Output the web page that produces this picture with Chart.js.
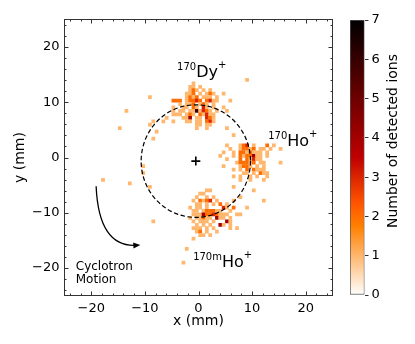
<!DOCTYPE html>
<html>
<head>
<meta charset="utf-8">
<script src="https://cdn.jsdelivr.net/npm/chart.js@4"></script>
<style>
  html, body { margin: 0; padding: 0; background: #fff; }
  #wrap { position: relative; width: 415px; height: 344px; }
  #main { position: absolute; left: 0; top: 0; }
  #cbar { position: absolute; left: 345px; top: 0; }
</style>
</head>
<body>
<div id="wrap">
  <canvas id="main" width="415" height="344"></canvas>
  <canvas id="cbar" width="70" height="344"></canvas>
</div>
<script>
// ─── Data ─────────────────────────────────────
const BIN = 0.625;            // histogram bin width, mm
const MAX_COUNT = 7;
const axisTicks = [-20, -10, 0, 10, 20];
const cbarTicks = [0, 1, 2, 3, 4, 5, 6, 7];

// each cluster: bin grid, one string per row (top row first), digit = ion count
const dyOrigin = [-10, 21];   // [first column, top row] in bin units
const dyRows = [
  '........1...........',
  '.......11.1.........',
  '.......121.1.1......',
  '......112.1.121..1..',
  '......1212.111.1....',
  '..222.12232.2311...1',
  '....1.112.121.1.....',
  '.....11.21.31.1..1..',
  '..1.11.1161321.1....',
  '...11.121.21311.....',
  '.....114.11.321.....',
  '......11.11.231.....',
  '.........11.11......',
  '.........1..1.......',
];

const hoOrigin = [6, 3];
const hoRows = [
  '..1...123.1...2.1...',
  '...1..12212.11.1....',
  '.1..1.2212111.1.....',
  '1...1.2122411.1.....',
  '..1...2.21311.......',
  '.....122212.11......',
  '.1....1221.1.1......',
  '....1.1.2.2111......',
  '.......11.1.211.....',
  '....1.1..1.1..1.....',
  '......1..1...1......',
];

const homOrigin = [-4, -10];
const homRows = [
  '......11.........',
  '....11...........',
  '...1..1.1........',
  '..1.2123.1....1..',
  '...11.1.1.2.1....',
  '.1.11.1....31.2..',
  '..11.122211..1...',
  '..11142232111..1.',
  '.1.11211.411.1...',
  '..1.111.1...41...',
  '...1.1.1..41.1...',
  '..111.1.1....1.1.',
  '...12.1..1.......',
  '....11.1.........',
];

// single stray ions (count 1), bin column / row
const strayCols = [14, -15, -22, -24, -8, -10, -11, -8, -8, -15, -14, -13, -14, -17, -17, -29, -21, -15, -14, -2, -4, -5, 24, 24, 19, 8, 10, 8, 14, 12, 12, 16, 10];
const strayRows = [22, 17, 13, 8, 14, 11, 10, 10, 12, 9, 10, 7, 5, -3, -5, -7, -8, -9, -19, -24, -27, -31, 2, -2, -13, 8, 6, 13, -15, -17, -12, -10, -9];

const ringCenter = [-0.5, -0.65];  // mm
const ringRadius = 10.2;           // mm

// ─── Helpers ──────────────────────────────────
function heat(c) {   // gist_heat reversed
  const t = 1 - c / MAX_COUNT;
  const r = Math.min(1, 1.5 * t);
  const g = Math.max(0, Math.min(1, 2 * t - 1));
  const b = Math.max(0, Math.min(1, 4 * t - 3));
  return `rgb(${Math.round(r * 255)},${Math.round(g * 255)},${Math.round(b * 255)})`;
}

function gridCells(origin, rows) {
  const out = [];
  rows.forEach((row, r) => {
    [...row].forEach((ch, k) => {
      if (ch === '.') return;
      out.push({ x: (origin[0] + k + 0.5) * BIN, y: (origin[1] - r + 0.5) * BIN, c: +ch });
    });
  });
  return out;
}

const cells = [
  ...gridCells(dyOrigin, dyRows),
  ...gridCells(hoOrigin, hoRows),
  ...gridCells(homOrigin, homRows),
  ...strayCols.map((col, k) => ({ x: (col + 0.5) * BIN, y: (strayRows[k] + 0.5) * BIN, c: 1 })),
];

const minus = v => String(v).replace('-', '\u2212');
const FONT = "'DejaVu Sans', sans-serif";
Chart.defaults.font.family = FONT;
Chart.defaults.color = '#000';

function cellRadius(ctx) {
  const { x, y } = ctx.chart.scales;
  const w = Math.abs(x.getPixelForValue(BIN) - x.getPixelForValue(0));
  const h = Math.abs(y.getPixelForValue(BIN) - y.getPixelForValue(0));
  return (w + h) / 2 * 0.77;
}

// ─── Plugins ──────────────────────────────────
const frame = {
  id: 'frame',
  afterDatasetsDraw(chart) {
    const { ctx, chartArea: a, scales: { x, y } } = chart;
    ctx.save();
    ctx.strokeStyle = '#333';
    ctx.lineWidth = 1;
    ctx.strokeRect(a.left, a.top, a.right - a.left, a.bottom - a.top);
    ctx.beginPath();
    for (let v = -24; v <= 24; v += 2) {
      const len = v % 10 === 0 ? 4 : 2;
      const px = Math.round(x.getPixelForValue(v)) + 0.5;
      const py = Math.round(y.getPixelForValue(v)) + 0.5;
      ctx.moveTo(px, a.bottom); ctx.lineTo(px, a.bottom - len);
      ctx.moveTo(px, a.top);    ctx.lineTo(px, a.top + len);
      ctx.moveTo(a.left, py);   ctx.lineTo(a.left + len, py);
      ctx.moveTo(a.right, py);  ctx.lineTo(a.right - len, py);
    }
    ctx.stroke();
    ctx.restore();
  },
};

function ionLabel(ctx, x, y, mass, name, charge) {
  ctx.textBaseline = 'alphabetic';
  ctx.textAlign = 'left';
  ctx.font = `10px ${FONT}`;
  ctx.fillText(mass, x, y - 7);
  let cx = x + ctx.measureText(mass).width;
  ctx.font = `16px ${FONT}`;
  ctx.fillText(name, cx, y);
  cx += ctx.measureText(name).width;
  ctx.font = `10px ${FONT}`;
  ctx.fillText(charge, cx, y - 9);
}

const overlay = {
  id: 'overlay',
  afterDatasetsDraw(chart) {
    const { ctx, scales: { x, y } } = chart;
    ctx.save();
    // dashed ring
    const cx = x.getPixelForValue(ringCenter[0]), cy = y.getPixelForValue(ringCenter[1]);
    const rx = Math.abs(x.getPixelForValue(ringCenter[0] + ringRadius) - cx);
    const ry = Math.abs(y.getPixelForValue(ringCenter[1] + ringRadius) - cy);
    ctx.strokeStyle = '#000';
    ctx.lineWidth = 1.2;
    ctx.setLineDash([4.5, 2.5]);
    ctx.beginPath();
    ctx.ellipse(cx, cy, rx, ry, 0, 0, Math.PI * 2);
    ctx.stroke();
    ctx.setLineDash([]);

    // cyclotron arrow
    const p0 = [x.getPixelForValue(-19.1), y.getPixelForValue(-5.2)];
    const pc = [x.getPixelForValue(-18.6), y.getPixelForValue(-16.3)];
    const p1 = [x.getPixelForValue(-11.6), y.getPixelForValue(-15.9)];
    ctx.lineWidth = 1.3;
    ctx.beginPath();
    ctx.moveTo(p0[0], p0[1]);
    ctx.quadraticCurveTo(pc[0], pc[1], p1[0], p1[1]);
    ctx.stroke();
    const ang = Math.atan2(p1[1] - pc[1], p1[0] - pc[0]);
    const tip = [p1[0] + 4 * Math.cos(ang), p1[1] + 4 * Math.sin(ang)];
    ctx.beginPath();
    ctx.moveTo(tip[0], tip[1]);
    ctx.lineTo(tip[0] - 7 * Math.cos(ang) + 3 * Math.sin(ang), tip[1] - 7 * Math.sin(ang) - 3 * Math.cos(ang));
    ctx.lineTo(tip[0] - 7 * Math.cos(ang) - 3 * Math.sin(ang), tip[1] - 7 * Math.sin(ang) + 3 * Math.cos(ang));
    ctx.closePath();
    ctx.fillStyle = '#000';
    ctx.fill();

    // labels
    ctx.fillStyle = '#000';
    ionLabel(ctx, x.getPixelForValue(-4.0), y.getPixelForValue(14.5), '170', 'Dy', '+');
    ionLabel(ctx, x.getPixelForValue(13.0), y.getPixelForValue(2.0), '170', 'Ho', '+');
    ionLabel(ctx, x.getPixelForValue(-1.0), y.getPixelForValue(-19.9), '170m', 'Ho', '+');
    ctx.font = `12px ${FONT}`;
    ctx.textAlign = 'left';
    ctx.fillText('Cyclotron', x.getPixelForValue(-22.9), y.getPixelForValue(-20.3));
    ctx.fillText('Motion', x.getPixelForValue(-22.9), y.getPixelForValue(-22.8));
    ctx.restore();
  },
};

// ─── Main heat map ────────────────────────────
const tickFont = { size: 13, family: FONT };
const titleFont = { size: 14, family: FONT };
const fixTicks = s => { s.ticks = axisTicks.map(v => ({ value: v })); };

new Chart(document.getElementById('main'), {
  type: 'scatter',
  data: {
    datasets: [
      {
        data: cells,
        pointStyle: 'rect',
        pointRadius: cellRadius,
        pointHoverRadius: cellRadius,
        pointBackgroundColor: ctx => heat(ctx.raw.c),
        pointBorderWidth: 0,
      },
      {
        data: [{ x: ringCenter[0], y: ringCenter[1] }],
        pointStyle: 'cross',
        pointRadius: 4.5,
        pointBorderColor: '#000',
        pointBorderWidth: 1.6,
      },
    ],
  },
  options: {
    responsive: false,
    animation: false,
    events: [],
    layout: { padding: { left: 0, top: 19.5, right: 82.5, bottom: 0 } },
    plugins: { legend: { display: false }, tooltip: { enabled: false } },
    scales: {
      x: {
        type: 'linear', min: -25, max: 25,
        grid: { display: false, drawTicks: false }, border: { display: false },
        ticks: { font: tickFont, padding: 5, maxRotation: 0, callback: minus },
        afterBuildTicks: fixTicks,
        title: { display: true, text: 'x (mm)', font: titleFont, padding: { top: 0, bottom: 14 } },
        afterFit(s) { s.height = 48.5; },
      },
      y: {
        type: 'linear', min: -25, max: 25,
        grid: { display: false, drawTicks: false }, border: { display: false },
        ticks: { font: tickFont, padding: 5, callback: minus },
        afterBuildTicks: fixTicks,
        title: { display: true, text: 'y (mm)', font: titleFont, padding: { top: 12, bottom: 0 } },
        afterFit(s) { s.width = 64.5; },
      },
    },
  },
  plugins: [overlay, frame],
});

// ─── Colour bar ───────────────────────────────
const cbarTitle = {
  id: 'cbarTitle',
  afterDraw(chart) {
    const { ctx } = chart;
    ctx.save();
    ctx.translate(48, 141);
    ctx.rotate(-Math.PI / 2);
    ctx.font = `14px ${FONT}`;
    ctx.fillStyle = '#000';
    ctx.textAlign = 'center';
    ctx.textBaseline = 'middle';
    ctx.fillText('Number of detected ions', 0, 0);
    ctx.restore();
  },
};

new Chart(document.getElementById('cbar'), {
  type: 'bar',
  data: {
    labels: [''],
    datasets: [{
      data: [[cbarTicks[0], cbarTicks[cbarTicks.length - 1]]],
      backgroundColor(ctx) {
        const { chartArea } = ctx.chart;
        if (!chartArea) return null;
        const g = ctx.chart.ctx.createLinearGradient(0, chartArea.bottom, 0, chartArea.top);
        [0, 0.25, 1 / 3, 0.5, 1].forEach(s => g.addColorStop(s, heat(s * MAX_COUNT)));
        return g;
      },
      borderColor: '#555',
      borderWidth: 1,
      borderSkipped: false,
      barPercentage: 1,
      categoryPercentage: 1,
    }],
  },
  options: {
    responsive: false,
    animation: false,
    events: [],
    layout: { padding: { left: 5, top: 20, right: 0, bottom: 49 } },
    plugins: { legend: { display: false }, tooltip: { enabled: false } },
    scales: {
      x: { display: false },
      y: {
        position: 'right', min: 0, max: MAX_COUNT,
        grid: { drawOnChartArea: false, tickLength: 4, color: '#333' },
        border: { display: false },
        ticks: { stepSize: 1, font: tickFont, padding: 3 },
        afterFit(s) { s.width = 50.5; },
      },
    },
  },
  plugins: [cbarTitle],
});
</script>
</body>
</html>
